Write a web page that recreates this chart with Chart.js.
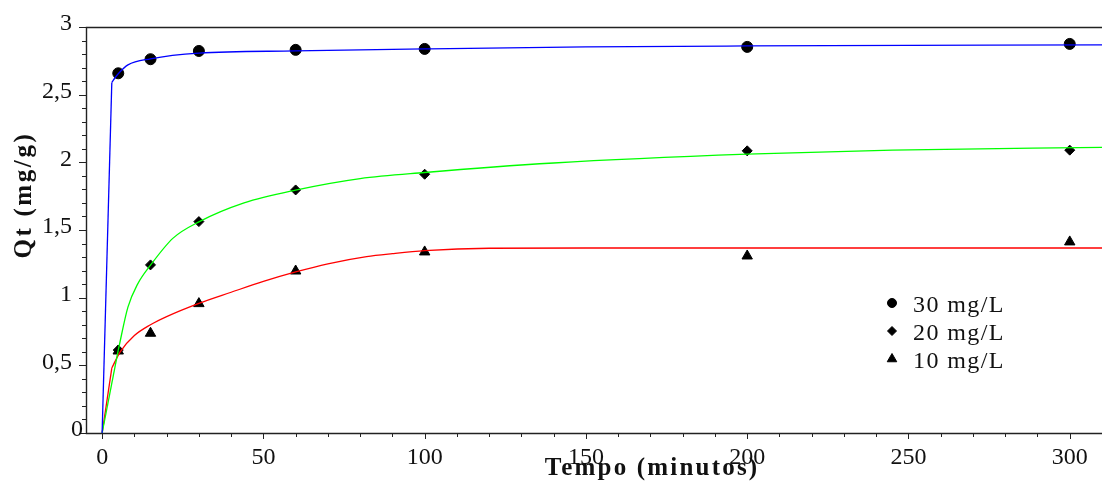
<!DOCTYPE html>
<html><head><meta charset="utf-8">
<script src="https://cdn.jsdelivr.net/npm/chart.js@4/dist/chart.umd.min.js"></script>
<style>html,body{margin:0;padding:0;background:#fff;}canvas{display:block}</style>
</head><body>
<canvas id="c" width="1102" height="486"></canvas>
<script>
// measured data (time in minutes, Qt in mg/g)
const times = [5, 15, 30, 60, 100, 200, 300];
const q30 = [2.658, 2.762, 2.823, 2.831, 2.838, 2.853, 2.875];
const q20 = [0.613, 1.242, 1.562, 1.796, 1.912, 2.085, 2.09];
const q10 = [0.606, 0.737, 0.956, 1.197, 1.338, 1.308, 1.412];

// fitted curves
const fitT30 = [0, 3, 4, 5, 8, 15, 30, 60, 100, 150, 200, 310];
const fitQ30 = [0, 2.59, 2.625, 2.655, 2.72, 2.765, 2.807, 2.823, 2.838, 2.853, 2.86, 2.868];
const fitT20 = [0, 5, 8, 11, 15, 22, 30, 44, 60, 80, 100, 140, 200, 245, 310];
const fitQ20 = [0, 0.613, 0.93, 1.10, 1.24, 1.44, 1.56, 1.70, 1.795, 1.88, 1.925, 1.995, 2.06, 2.09, 2.11];
const fitT10 = [0, 3, 5.6, 10, 15, 20, 30, 40, 50, 60, 70, 82, 90, 100, 120, 150, 310];
const fitQ10 = [0, 0.48, 0.60, 0.72, 0.80, 0.86, 0.958, 1.04, 1.12, 1.19, 1.25, 1.303, 1.325, 1.347, 1.365, 1.367, 1.367];

const seriesLabels = ['30 mg/L', '20 mg/L', '10 mg/L'];
const xTitle = 'Tempo (minutos)';
const yTitle = 'Qt (mg/g)';
const xTickLabels = [0, 50, 100, 150, 200, 250, 300];
const yTickLabels = [0, 0.5, 1, 1.5, 2, 2.5, 3];
const xMinorStep = 10;
const yMinorStep = 0.1;

const FONT = "'Liberation Serif', 'Times New Roman', serif";
const pts = (xs, ys) => xs.map((v, i) => ({x: v, y: ys[i]}));

const isMajorY = v => yTickLabels.some(t => Math.abs(t - v) < 1e-6);
const isMajorX = v => xTickLabels.some(t => Math.abs(t - v) < 1e-6);
const fmt = v => String(Math.round(v * 10) / 10).replace('.', ',');
const range = (a, b, s) => { const r = []; for (let i = 0; a + i * s <= b + 1e-9; i++) r.push(Math.round((a + i * s) * 1000) / 1000); return r; };

const framePlugin = {
  id: 'frame',
  beforeDatasetsDraw(chart) {
    const {ctx, chartArea: a, scales: {x, y}} = chart;
    ctx.save();
    ctx.strokeStyle = '#222';
    ctx.lineWidth = 1.4;
    ctx.beginPath();
    ctx.moveTo(a.right, a.top + 0.5);
    ctx.lineTo(a.left + 0.5, a.top + 0.5);
    ctx.lineTo(a.left + 0.5, a.bottom + 0.5);
    ctx.lineTo(a.right, a.bottom + 0.5);
    ctx.stroke();
    ctx.lineWidth = 1;
    ctx.beginPath();
    y.ticks.forEach(t => {
      const py = Math.round(y.getPixelForValue(t.value)) + 0.5;
      ctx.moveTo(a.left, py);
      ctx.lineTo(a.left - (isMajorY(t.value) ? 7 : 4), py);
    });
    x.ticks.forEach(t => {
      const px = Math.round(x.getPixelForValue(t.value)) + 0.5;
      ctx.moveTo(px, a.bottom);
      ctx.lineTo(px, a.bottom + (isMajorX(t.value) ? 6 : 4));
    });
    ctx.stroke();
    // zero label of y axis (sits close to the axis in the reference)
    ctx.fillStyle = '#111';
    ctx.font = '24px ' + FONT;
    ctx.textAlign = 'right';
    ctx.textBaseline = 'alphabetic';
    ctx.fillText('0', a.left - 3, y.getPixelForValue(0) + 3);
    // axis titles
    ctx.font = 'bold 25px ' + FONT;
    ctx.textAlign = 'center';
    ctx.letterSpacing = '2.2px';
    ctx.fillText(xTitle, 652, 475);
    ctx.save();
    ctx.letterSpacing = '2.6px';
    ctx.translate(31, 195);
    ctx.rotate(-Math.PI / 2);
    ctx.fillText(yTitle, 0, 0);
    ctx.restore();
    ctx.restore();
  },
  afterDraw(chart) {
    const {ctx} = chart;
    ctx.save();
    const rows = [303, 331, 359];
    chart.data.datasets.filter(d => d.type === 'scatter').forEach((ds, i) => {
      ctx.fillStyle = '#000';
      ctx.strokeStyle = '#000';
      ctx.lineWidth = 1;
      Chart.helpers.drawPoint(ctx, {pointStyle: ds.pointStyle, radius: ds.legendRadius, rotation: 0, borderWidth: 1}, 892, rows[i]);
      ctx.font = '24px ' + FONT;
      ctx.letterSpacing = '1.4px';
      ctx.textAlign = 'left';
      ctx.textBaseline = 'alphabetic';
      ctx.fillStyle = '#111';
      ctx.fillText(ds.label, 913, rows[i] + 9);
    });
    ctx.restore();
  }
};

// each fitted curve: straight first segment from the origin, smooth afterwards
const lineDs = (label, xs, ys, color, curved) => ({
  type: 'line', label,
  data: curved ? pts(xs.slice(1), ys.slice(1)) : pts(xs.slice(0, 2), ys.slice(0, 2)),
  borderColor: color, backgroundColor: color,
  borderWidth: 1.3, pointRadius: 0, pointHoverRadius: 0, fill: false,
  cubicInterpolationMode: curved ? 'monotone' : 'default', tension: 0
});
const markDs = (label, ys, style, r, lr) => ({
  type: 'scatter', label, data: pts(times, ys), pointStyle: style,
  pointRadius: r, pointHoverRadius: r, backgroundColor: '#000', borderColor: '#000',
  borderWidth: 1, showLine: false, legendRadius: lr
});

new Chart(document.getElementById('c'), {
  data: {
    datasets: [
      lineDs('fit 30', fitT30, fitQ30, '#0000ff', true),
      lineDs('fit 30 start', fitT30, fitQ30, '#0000ff', false),
      lineDs('fit 20', fitT20, fitQ20, '#00ff00', true),
      lineDs('fit 20 start', fitT20, fitQ20, '#00ff00', false),
      lineDs('fit 10', fitT10, fitQ10, '#ff0000', true),
      lineDs('fit 10 start', fitT10, fitQ10, '#ff0000', false),
      markDs(seriesLabels[0], q30, 'circle', 5.5, 4.5),
      markDs(seriesLabels[1], q20, 'rectRot', 5, 4.5),
      markDs(seriesLabels[2], q10, 'triangle', 6, 5.5)
    ]
  },
  plugins: [framePlugin],
  options: {
    responsive: false,
    devicePixelRatio: 1,
    animation: false,
    events: [],
    layout: {autoPadding: false, padding: {top: 27, right: 0, left: 0, bottom: 0}},
    plugins: {legend: {display: false}, tooltip: {enabled: false}, title: {display: false}},
    scales: {
      x: {
        type: 'linear', min: -5, max: 310,
        grid: {display: false, drawTicks: false}, border: {display: false},
        afterBuildTicks: s => { s.ticks = range(0, 300, xMinorStep).map(v => ({value: v})); },
        ticks: {autoSkip: false, maxRotation: 0, padding: 10, color: '#111',
          font: {family: FONT, size: 24},
          callback: v => (isMajorX(v) ? String(v) : '')},
        afterFit: s => { s.height = 53; s.paddingLeft = 0; s.paddingRight = 0; }
      },
      y: {
        type: 'linear', min: 0, max: 3,
        grid: {display: false, drawTicks: false}, border: {display: false},
        afterBuildTicks: s => { s.ticks = range(0, 3, yMinorStep).map(v => ({value: v})); },
        ticks: {autoSkip: false, padding: 14, labelOffset: -3, color: '#111',
          font: {family: FONT, size: 24},
          callback: v => (isMajorY(v) && Math.abs(v) > 1e-6 ? fmt(v) : '')},
        afterFit: s => { s.width = 86; s.paddingTop = 0; s.paddingBottom = 0; }
      }
    }
  }
});
</script>
</body></html>
